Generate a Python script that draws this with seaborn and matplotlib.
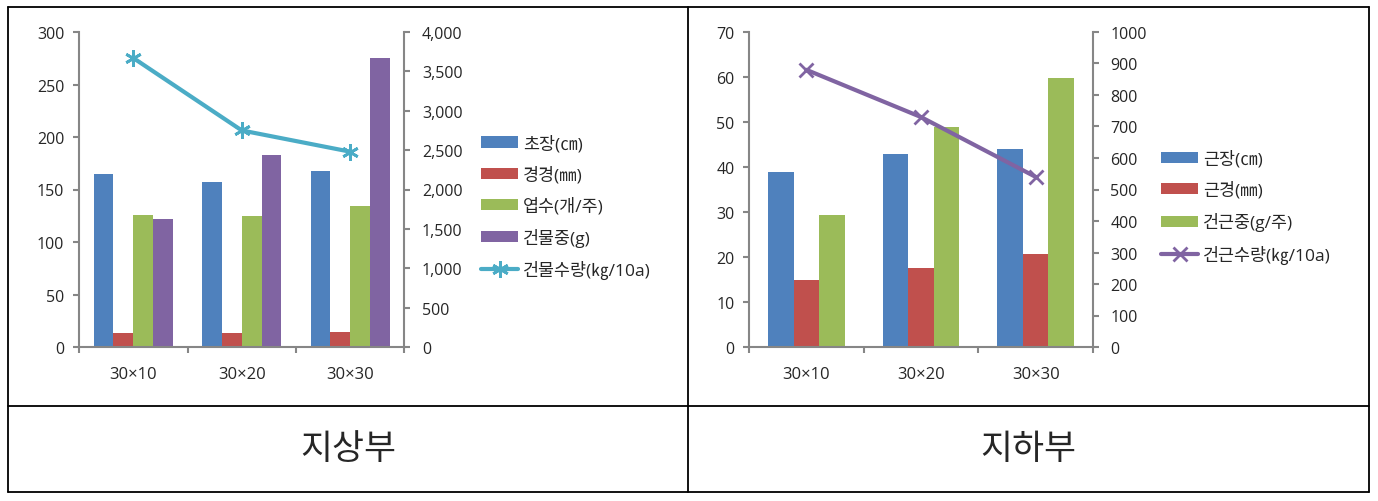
import numpy as np
import pandas as pd
import seaborn as sns
import matplotlib.pyplot as plt
from matplotlib.lines import Line2D
from matplotlib.patches import Patch
from matplotlib.ticker import FuncFormatter, MultipleLocator

cats = ["30×10", "30×20", "30×30"]

# 지상부
top_names = ["초장(㎝)", "경경(㎜)", "엽수(개/주)", "건물중(g)"]
top_height = [165, 157, 168]
top_stem = [13, 13, 14]
top_leaves = [126, 125, 134]
top_dry = [122, 183, 275]
top_line_name = "건물수량(㎏/10a)"
top_yield = [3670, 2750, 2480]

# 지하부
root_names = ["근장(㎝)", "근경(㎜)", "건근중(g/주)"]
root_len = [39, 43, 44]
root_diam = [15, 17.6, 20.6]
root_dry = [29.3, 48.8, 59.8]
root_line_name = "건근수량(㎏/10a)"
root_yield = [880, 730, 540]

bar_colors = ["#4F81BD", "#C0504D", "#9BBB59", "#8064A2"]
axis_gray = "#868686"

sns.set_theme(style="white")
plt.rcParams["font.family"] = ["Open Sans", "Noto Sans CJK KR", "DejaVu Sans"]

W, H = 1378, 502
fig = plt.figure(figsize=(W / 100, H / 100), dpi=100)


def px_axes(x0, x1, y0, y1):
    return fig.add_axes([x0 / W, 1 - y1 / H, (x1 - x0) / W, (y1 - y0) / H])


def make_panel(ax, names, series, line_name, line_vals, line_color, marker, ms,
               ylim, ystep, ylim2, ystep2, fmt2, width, legend_x):
    df = pd.DataFrame({
        "cat": np.tile(cats, len(names)),
        "var": np.repeat(names, len(cats)),
        "val": np.concatenate(series),
    })
    sns.barplot(data=df, x="cat", y="val", hue="var", palette=bar_colors[:len(names)],
                width=width, saturation=1, errorbar=None, legend=False,
                linewidth=0, edgecolor="none", ax=ax)
    ax.set_xlabel("")
    ax.set_ylabel("")
    ax.set_ylim(*ylim)
    ax.set_xlim(-0.5, len(cats) - 0.5)
    ax.yaxis.set_major_locator(MultipleLocator(ystep))
    ax.set_xticks(np.arange(len(cats) + 1) - 0.5)
    ax.set_xticklabels([])
    ax.set_xticks(np.arange(len(cats)), minor=True)
    ax.set_xticklabels(cats, minor=True)
    ax.tick_params(axis="x", which="major", direction="out", length=4, width=1.5,
                   color=axis_gray, bottom=True)
    ax.tick_params(axis="x", which="minor", length=0, pad=14, labelsize=12)
    ax.tick_params(axis="y", direction="out", length=4.5, width=1.5, color=axis_gray,
                   left=True, pad=6, labelsize=11.5)
    for s in ["top", "right"]:
        ax.spines[s].set_visible(False)
    for s in ["left", "bottom"]:
        ax.spines[s].set_color(axis_gray)
        ax.spines[s].set_linewidth(1.5)

    ax2 = ax.twinx()
    sns.lineplot(x=np.arange(len(cats)), y=line_vals, ax=ax2, color=line_color,
                 linewidth=3, marker=marker, markersize=ms, markeredgewidth=2,
                 markeredgecolor=line_color)
    ax2.set_ylim(*ylim2)
    ax2.yaxis.set_major_locator(MultipleLocator(ystep2))
    ax2.yaxis.set_major_formatter(FuncFormatter(fmt2))
    ax2.set_ylabel("")
    ax2.tick_params(axis="y", direction="out", length=4.5, width=1.5, color=axis_gray,
                    right=True, pad=8, labelsize=11.5)
    for s in ["top", "left", "bottom"]:
        ax2.spines[s].set_visible(False)
    ax2.spines["right"].set_color(axis_gray)
    ax2.spines["right"].set_linewidth(1.5)

    handles = [Patch(facecolor=c, edgecolor="none") for c in bar_colors[:len(names)]]
    handles.append(Line2D([], [], color=line_color, linewidth=3, marker=marker,
                          markersize=ms, markeredgewidth=2))
    fig.legend(handles, names + [line_name], loc="center left",
               bbox_to_anchor=(legend_x / W, 1 - 208 / H), frameon=False,
               borderaxespad=0, borderpad=0, fontsize=12.5, handlelength=2.15,
               handleheight=0.6, handletextpad=0.25, labelspacing=0.78)


ax_top = px_axes(79, 404.5, 33, 348)
make_panel(ax_top, top_names, [top_height, top_stem, top_leaves, top_dry],
           top_line_name, top_yield, "#4BACC6", (6, 2, 0), 12,
           (0, 300), 50, (0, 4000), 500, lambda v, p: f"{int(v):,}", 0.73, 481)

ax_root = px_axes(749, 1093, 33, 348)
make_panel(ax_root, root_names, [root_len, root_diam, root_dry],
           root_line_name, root_yield, "#8064A2", "x", 10,
           (0, 70), 10, (0, 1000), 100, lambda v, p: f"{int(v)}", 0.67, 1161)

# table frame
lw = 1.3
def hline(y, x0=8, x1=1369):
    fig.add_artist(Line2D([x0 / W, x1 / W], [1 - y / H, 1 - y / H], color="black", lw=lw))
def vline(x, y0=8, y1=493):
    fig.add_artist(Line2D([x / W, x / W], [1 - y0 / H, 1 - y1 / H], color="black", lw=lw))

hline(8)
hline(407)
hline(493)
vline(8)
vline(688)
vline(1369)

fig.text(348.5 / W, 1 - 450 / H, "지상부", ha="center", va="center", fontsize=25)
fig.text(1028 / W, 1 - 450 / H, "지하부", ha="center", va="center", fontsize=25)

fig.savefig("out.png", dpi=100)
